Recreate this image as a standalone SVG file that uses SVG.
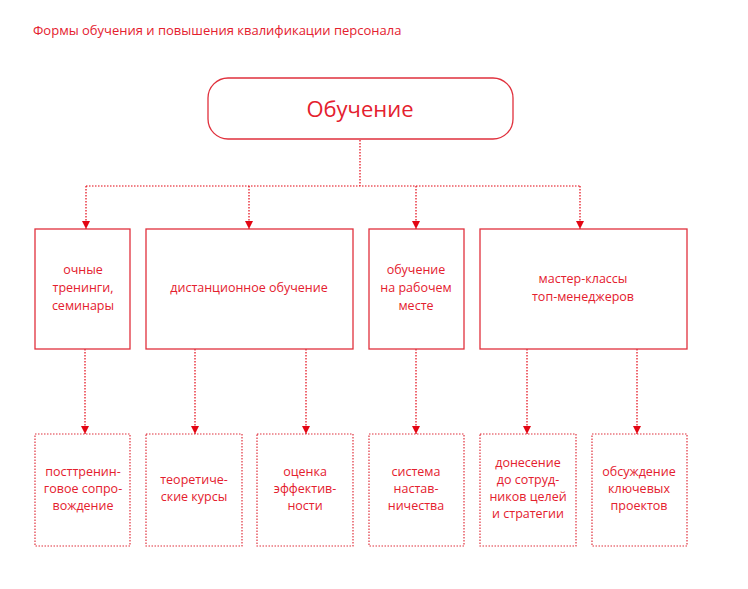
<svg xmlns="http://www.w3.org/2000/svg" width="748" height="589" viewBox="0 0 748 589">
<style>
text{font-family:"Open Sans","Liberation Sans",sans-serif;fill:#e4202e;text-anchor:middle;font-size:12.5px}
.s{fill:#fff;stroke:#e0303c;stroke-width:1.3}
.d{fill:#fff;stroke:#e0303c;stroke-width:1.2;stroke-dasharray:1.5 1.5}
.c{fill:none;stroke:#e30613;stroke-width:1.2;stroke-dasharray:1.5 1.5}
</style>
<defs><marker id="a" viewBox="0 0 10 10" refX="10" refY="5" markerWidth="8" markerHeight="8" markerUnits="userSpaceOnUse" orient="auto"><path d="M0,0L10,5L0,10z" fill="#e30613"/></marker></defs>
<rect width="748" height="589" fill="#fff"/>
<text x="33" y="35" style="text-anchor:start;font-size:13px">Формы обучения и повышения квалификации персонала</text>
<g id="connectors">
<path class="c" d="M360,140V186M86,186H580"/>
<path class="c" d="M86,186V229" marker-end="url(#a)"/>
<path class="c" d="M249,186V229" marker-end="url(#a)"/>
<path class="c" d="M416,186V229" marker-end="url(#a)"/>
<path class="c" d="M580,186V229" marker-end="url(#a)"/>
<path class="c" d="M85,349V434" marker-end="url(#a)"/>
<path class="c" d="M195,349V434" marker-end="url(#a)"/>
<path class="c" d="M306,349V434" marker-end="url(#a)"/>
<path class="c" d="M416,349V434" marker-end="url(#a)"/>
<path class="c" d="M527,349V434" marker-end="url(#a)"/>
<path class="c" d="M637,349V434" marker-end="url(#a)"/>
</g>
<g id="root"><rect class="s" x="208" y="78" width="305" height="61" rx="20"/><text x="360" y="117" style="font-size:22px">Обучение</text></g>
<g id="n1"><rect class="s" x="35" y="229" width="95" height="120"/><text x="83" y="274">очные</text><text x="83" y="292">тренинги,</text><text x="83" y="310">семинары</text></g>
<g id="n2"><rect class="s" x="146" y="229" width="207" height="120"/><text x="249" y="292">дистанционное обучение</text></g>
<g id="n3"><rect class="s" x="369" y="229" width="95" height="120"/><text x="416" y="274">обучение</text><text x="416" y="292">на рабочем</text><text x="416" y="310">месте</text></g>
<g id="n4"><rect class="s" x="480" y="229" width="207" height="120"/><text x="583" y="283">мастер-классы</text><text x="583" y="301">топ-менеджеров</text></g>
<g id="b1"><rect class="d" x="35" y="434" width="95" height="112"/><text x="83" y="476">посттренин-</text><text x="83" y="493">говое сопро-</text><text x="83" y="510">вождение</text></g>
<g id="b2"><rect class="d" x="146" y="434" width="96" height="112"/><text x="194" y="484">теоретиче-</text><text x="194" y="501">ские курсы</text></g>
<g id="b3"><rect class="d" x="257" y="434" width="96" height="112"/><text x="305" y="476">оценка</text><text x="305" y="493">эффектив-</text><text x="305" y="510">ности</text></g>
<g id="b4"><rect class="d" x="369" y="434" width="95" height="112"/><text x="416" y="476">система</text><text x="416" y="493">настав-</text><text x="416" y="510">ничества</text></g>
<g id="b5"><rect class="d" x="480" y="434" width="96" height="112"/><text x="528" y="467">донесение</text><text x="528" y="484">до сотруд-</text><text x="528" y="501">ников целей</text><text x="528" y="518">и стратегии</text></g>
<g id="b6"><rect class="d" x="592" y="434" width="95" height="112"/><text x="639" y="476">обсуждение</text><text x="639" y="493">ключевых</text><text x="639" y="510">проектов</text></g>
</svg>
